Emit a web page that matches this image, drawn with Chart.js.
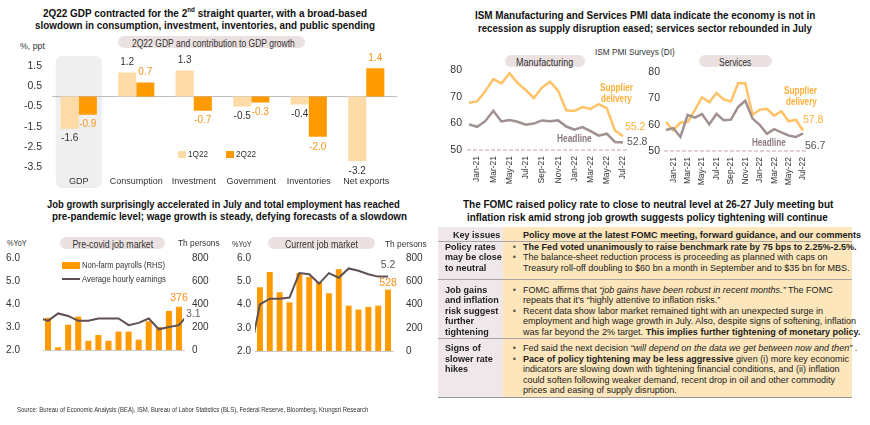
<!DOCTYPE html>
<html>
<head>
<meta charset="utf-8">
<title>US economy: GDP, PMI, jobs, FOMC</title>
<script src="https://cdn.jsdelivr.net/npm/chart.js@4.4.0/dist/chart.umd.min.js"></script>
<style>
  body { margin: 0; background: #fff; }
  #page { position: relative; width: 870px; height: 425px; overflow: hidden;
          font-family: "Liberation Sans", Arial, sans-serif; color: #222; }
  .a { position: absolute; white-space: nowrap; transform-origin: 0 50%; line-height: 12px; }
  .title { font-weight: bold; font-size: 11px; color: #111; }
  .pill { position: absolute; background: #ebe1e1; border-radius: 6px; height: 12px; line-height: 12px; text-align: center; }
  .pill span { display: inline-block; font-size: 10px; color: #333; white-space: nowrap; }
  .small { font-size: 9.5px; color: #333; }
  .sup { font-weight: bold; font-size: 10px; color: #ffae38; }
  .head { font-weight: bold; font-size: 10px; color: #8a7b7e; }
  .cell { position: absolute; }
  .tx { position: absolute; font-size: 9.6px; line-height: 10.5px; transform-origin: 0 0; }
  .tx div { position: relative; white-space: nowrap; }
  .bul { position: absolute; left: -11px; color: #555; }
  .rule { position: absolute; height: 1px; background: #a5a5a5; }
</style>
</head>
<body>
<div id="page">
  <!-- top left: GDP -->
  <div class="a title" data-w="324" style="left:43px;top:7px;">2Q22 GDP contracted for the 2<sup style="font-size:7px;line-height:0">nd</sup> straight quarter, with a broad-based</div>
  <div class="a title" data-w="340" style="left:35px;top:19px;">slowdown in consumption, investment, inventories, and public spending</div>
  <div class="pill" style="left:118px;top:36px;width:187px;"><span data-w="163">2Q22 GDP and contribution to GDP growth</span></div>
  <div class="a small" data-w="25" style="left:20px;top:40px;">%, ppt</div>
  <canvas id="gdp" class="a" width="400" height="140" style="left:0;top:50px;"></canvas>
  <div class="a" style="left:178px;top:151px;width:8px;height:7px;background:#fedba6;"></div>
  <div class="a small" data-w="20" style="left:188px;top:148px;">1Q22</div>
  <div class="a" style="left:226px;top:151px;width:8px;height:7px;background:#ff9a00;"></div>
  <div class="a small" data-w="20" style="left:236px;top:148px;">2Q22</div>

  <!-- top right: PMI -->
  <div class="a title" data-w="340" style="left:475px;top:9px;">ISM Manufacturing and Services PMI data indicate the economy is not in</div>
  <div class="a title" data-w="334" style="left:478px;top:22px;">recession as supply disruption eased; services sector rebounded in July</div>
  <div class="a small" data-w="80" style="left:595px;top:46px;">ISM PMI Surveys (DI)</div>
  <div class="pill" style="left:505px;top:55px;width:80px;"><span data-w="57">Manufacturing</span></div>
  <div class="pill" style="left:699px;top:55px;width:73px;"><span data-w="32">Services</span></div>
  <canvas id="mfg" class="a" width="220" height="130" style="left:430px;top:62px;"></canvas>
  <canvas id="svc" class="a" width="210" height="130" style="left:636px;top:62px;"></canvas>
  <div class="a sup" data-w="33" style="left:600px;top:82px;">Supplier</div>
  <div class="a sup" data-w="31" style="left:601px;top:93px;">delivery</div>
  <div class="a sup" data-w="33" style="left:784px;top:85px;">Supplier</div>
  <div class="a sup" data-w="31" style="left:786px;top:96px;">delivery</div>
  <div class="a head" data-w="35" style="left:557px;top:133px;">Headline</div>
  <div class="a head" data-w="34" style="left:752px;top:137px;">Headline</div>

  <!-- bottom left: jobs -->
  <div class="a title" data-w="353" style="left:47px;top:198px;">Job growth surprisingly accelerated in July and total employment has reached</div>
  <div class="a title" data-w="355" style="left:52px;top:210px;">pre-pandemic level; wage growth is steady, defying forecasts of a slowdown</div>
  <div class="a small" data-w="20" style="left:7px;top:237px;">%YoY</div>
  <div class="pill" style="left:60px;top:237px;width:105px;"><span data-w="81">Pre-covid job market</span></div>
  <div class="a small" data-w="42" style="left:178px;top:237px;">Th persons</div>
  <div class="a small" data-w="20" style="left:232px;top:238px;">%YoY</div>
  <div class="pill" style="left:268px;top:237px;width:107px;"><span data-w="73">Current job market</span></div>
  <div class="a small" data-w="42" style="left:385px;top:238px;">Th persons</div>
  <canvas id="pre" class="a" width="215" height="150" style="left:0;top:250px;"></canvas>
  <canvas id="cur" class="a" width="215" height="150" style="left:215px;top:250px;"></canvas>
  <div class="a" style="left:62px;top:262px;width:18px;height:7px;background:#ff9a00;"></div>
  <div class="a small" data-w="83" style="left:82px;top:259px;">Non-farm payrolls (RHS)</div>
  <div class="a" style="left:62px;top:278px;width:18px;height:2px;background:#5f5054;"></div>
  <div class="a small" data-w="84" style="left:82px;top:273px;">Average hourly earnings</div>

  <!-- bottom right: FOMC table -->
  <div class="a title" data-w="370" style="left:463px;top:198px;">The FOMC raised policy rate to close to neutral level at 26-27 July meeting but</div>
  <div class="a title" data-w="361" style="left:467px;top:210.5px;">inflation risk amid strong job growth suggests policy tightening will continue</div>

  <div class="cell" style="left:438px;top:227px;width:65px;height:170px;background:#efe7ea;"></div>
  <div class="cell" style="left:503px;top:227px;width:349px;height:170px;background:#fde6bb;"></div>

  <div class="tx" style="left:453px;top:229.75px;font-weight:bold;"><div>Key issues</div></div>
  <div class="tx" style="left:523px;top:229.75px;font-weight:bold;"><div>Policy move at the latest FOMC meeting, forward guidance, and our comments</div></div>

  <div class="tx" style="left:445px;top:241.75px;font-weight:bold;"><div>Policy rates</div><div>may be close</div><div>to neutral</div></div>
  <div class="tx" style="left:523px;top:241.75px;">
    <div><span class="bul">•</span><b>The Fed voted unanimously to raise benchmark rate by 75 bps to 2.25%-2.5%.</b></div>
    <div><span class="bul">•</span>The balance-sheet reduction process is proceeding as planned with caps on</div>
    <div><span id="refLine">Treasury roll-off doubling to $60 bn a month in September and to $35 bn for MBS.</span></div>
  </div>

  <div class="tx" style="left:445px;top:284.75px;font-weight:bold;"><div>Job gains</div><div>and inflation</div><div>risk suggest</div><div>further</div><div>tightening</div></div>
  <div class="tx" style="left:523px;top:284.75px;">
    <div><span class="bul">•</span>FOMC affirms that <i>“job gains have been robust in recent months.”</i> The FOMC</div>
    <div>repeats that it’s “highly attentive to inflation risks.”</div>
    <div><span class="bul">•</span>Recent data show labor market remained tight with an unexpected surge in</div>
    <div>employment and high wage growth in July. Also, despite signs of softening, inflation</div>
    <div>was far beyond the 2% target. <b>This implies further tightening of monetary policy.</b></div>
  </div>

  <div class="tx" style="left:445px;top:343.25px;font-weight:bold;"><div>Signs of</div><div>slower rate</div><div>hikes</div></div>
  <div class="tx" style="left:523px;top:343.25px;">
    <div><span class="bul">•</span>Fed said the next decision <i>“will depend on the data we get between now and then”</i> .</div>
    <div><span class="bul">•</span><b>Pace of policy tightening may be less aggressive</b> given (i) more key economic</div>
    <div>indicators are slowing down with tightening financial conditions, and (ii) inflation</div>
    <div>could soften following weaker demand, recent drop in oil and other commodity</div>
    <div>prices and easing of supply disruption.</div>
  </div>
  <div class="rule" style="left:438px;top:241px;width:414px;"></div>
  <div class="rule" style="left:438px;top:279px;width:414px;"></div>
  <div class="rule" style="left:438px;top:338px;width:414px;"></div>
  <div class="rule" style="left:438px;top:397px;width:414px;background:#999;"></div>

  <div class="a" data-w="351" style="left:17px;top:404px;font-size:7.5px;color:#333;">Source: Bureau of Economic Analysis (BEA), ISM, Bureau of Labor Statistics (BLS), Federal Reserve, Bloomberg, Krungsri Research</div>
</div>

<script>
// ---------- data ----------
const gdpCategories = ['GDP', 'Consumption', 'Investment', 'Government', 'Inventories', 'Net exports'];
const gdp1Q22 = [-1.6, 1.2, 1.3, -0.5, -0.4, -3.2];
const gdp2Q22 = [-0.9, 0.7, -0.7, -0.3, -2.0, 1.4];
const gdpTicks = [1.5, 0.5, -0.5, -1.5, -2.5, -3.5];

const pmiMonths = ['Dec-20', 'Jan-21', 'Feb-21', 'Mar-21', 'Apr-21', 'May-21', 'Jun-21', 'Jul-21', 'Aug-21', 'Sep-21',
  'Oct-21', 'Nov-21', 'Dec-21', 'Jan-22', 'Feb-22', 'Mar-22', 'Apr-22', 'May-22', 'Jun-22', 'Jul-22'];
const mfgSupplier = [67.7, 68.2, 72.0, 76.6, 75.0, 78.8, 75.1, 72.5, 69.5, 73.4, 75.6, 72.2, 64.9, 64.6, 66.1, 65.4, 67.2, 65.7, 57.3, 55.2];
const mfgHeadline = [59.6, 58.7, 60.8, 64.7, 60.7, 61.2, 60.6, 59.5, 59.9, 61.1, 60.8, 61.1, 58.8, 57.6, 58.6, 57.1, 55.4, 56.1, 53.0, 52.8];
const svcSupplier = [61.0, 57.8, 60.8, 61.0, 65.5, 70.4, 68.5, 72.0, 69.6, 68.8, 75.7, 75.7, 63.8, 65.7, 66.0, 63.4, 65.1, 61.3, 61.9, 57.8];
const svcHeadline = [58.0, 58.7, 55.3, 63.7, 62.7, 64.0, 60.1, 64.1, 61.7, 61.9, 66.7, 69.1, 62.3, 59.9, 56.5, 58.3, 57.1, 55.9, 55.3, 56.7];
const pmiTicks = [50, 55, 60, 65, 70, 75, 80];

const preMonths = ['Jan-19', 'Feb-19', 'Mar-19', 'Apr-19', 'May-19', 'Jun-19', 'Jul-19', 'Aug-19', 'Sep-19', 'Oct-19',
  'Nov-19', 'Dec-19', 'Jan-20', 'Feb-20'];
const prePayrolls = [280, 24, 220, 290, 80, 130, 80, 160, 160, 90, 250, 200, 340, 376];
// earnings run one month past each side of the bars (Dec-18 .. Mar-20); the ends get clipped
const preEarnings = [3.41, 3.27, 3.59, 3.48, 3.27, 3.27, 3.37, 3.37, 3.37, 3.08, 3.18, 3.37, 2.9, 3.0, 3.08, 3.6];

const curMonths = ['Jun-21', 'Jul-21', 'Aug-21', 'Sep-21', 'Oct-21', 'Nov-21', 'Dec-21', 'Jan-22', 'Feb-22', 'Mar-22',
  'Apr-22', 'May-22', 'Jun-22', 'Jul-22'];
const curPayrolls = [548, 680, 505, 418, 671, 637, 595, 497, 704, 390, 356, 379, 390, 528];
// May-21 .. Jul-22
const curEarnings = [1.9, 4.0, 4.25, 4.25, 4.3, 5.35, 5.3, 4.9, 5.35, 5.15, 5.55, 5.45, 5.3, 5.2, 5.2];

const jobLeftTicks = [2, 3, 4, 5, 6];
const jobRightTicks = [0, 200, 400, 600, 800];

// ---------- squeeze html text to the reference widths ----------
document.querySelectorAll('[data-w]').forEach(el => {
  el.style.transformOrigin = el.tagName === 'SPAN' ? '50% 50%' : '0 50%';
  el.style.transform = 'scaleX(' + (+el.dataset.w / el.offsetWidth) + ')';
});
const tableK = 327 / document.getElementById('refLine').offsetWidth;
document.querySelectorAll('.tx').forEach(el => { el.style.transform = 'scaleX(' + tableK + ')'; });

// ---------- shared bits ----------
const FONT = '"Liberation Sans", Arial, sans-serif';
Chart.defaults.font.family = FONT;
Chart.defaults.color = '#333';
Chart.defaults.animation = false;
Chart.defaults.plugins.legend.display = false;
Chart.defaults.plugins.tooltip.enabled = false;

const ORANGE = '#ff9a00';
const LIGHT = '#fedba6';

function fixW(w) { return s => { s.width = w; }; }
function fixH(h) { return s => { s.height = h; }; }
// hidden grid, but the tick length still pushes the labels away from the plot
// (ticks.padding would also push the plot area down)
function gap(px) { return { display: false, drawTicks: true, tickLength: px }; }

// text next to single points / bars
const pointLabels = {
  id: 'pointLabels',
  afterDatasetsDraw(chart, args, opts) {
    const ctx = chart.ctx;
    (opts.items || []).forEach(it => {
      const data = chart.data.datasets[it.dataset].data;
      const idx = it.index < 0 ? data.length + it.index : it.index;
      const el = chart.getDatasetMeta(it.dataset).data[idx];
      const raw = data[idx];
      const v = typeof raw === 'object' ? raw.y : raw;
      const txt = it.fmt ? it.fmt(v) : v.toFixed(1);
      ctx.save();
      ctx.font = (it.size || 10) + 'px ' + FONT;
      ctx.fillStyle = it.color;
      ctx.textAlign = it.align || 'center';
      ctx.textBaseline = 'middle';
      ctx.fillText(txt, el.x + (it.dx || 0), el.y + (it.dy || 0));
      ctx.restore();
    });
  }
};

// ---------- GDP ----------
const gdpDecor = {
  id: 'gdpDecor',
  beforeDraw(chart) {
    const ctx = chart.ctx, x = chart.scales.x;
    const cx = x.getPixelForValue(0);
    ctx.save();
    ctx.fillStyle = '#efefef';
    ctx.beginPath();
    ctx.roundRect(cx - 23, 6, 46, 132, 6);
    ctx.fill();
    ctx.restore();
  },
  beforeDatasetsDraw(chart) {
    const ctx = chart.ctx, y = chart.scales.y, a = chart.chartArea;
    const y0 = y.getPixelForValue(0);
    ctx.save();
    ctx.strokeStyle = '#bdbdbd';
    ctx.lineWidth = 1;
    ctx.beginPath();
    ctx.moveTo(a.left + 2, y0);
    ctx.lineTo(a.right + 2, y0);
    ctx.stroke();
    ctx.restore();
  },
  afterDatasetsDraw(chart) {
    const ctx = chart.ctx;
    const colors = ['#333', '#f7941d'];
    ctx.save();
    ctx.font = '10px ' + FONT;
    ctx.textAlign = 'center';
    ctx.textBaseline = 'middle';
    chart.data.datasets.forEach((ds, di) => {
      chart.getDatasetMeta(di).data.forEach((el, i) => {
        const v = ds.data[i];
        ctx.fillStyle = colors[di];
        ctx.fillText(v.toFixed(1), el.x, el.y + (v >= 0 ? -10 : 10));
      });
    });
    ctx.restore();
  }
};

new Chart(document.getElementById('gdp'), {
  type: 'bar',
  data: {
    labels: gdpCategories,
    datasets: [
      { label: '1Q22', data: gdp1Q22, backgroundColor: LIGHT, categoryPercentage: 0.63, barPercentage: 1.0 },
      { label: '2Q22', data: gdp2Q22, backgroundColor: ORANGE, categoryPercentage: 0.63, barPercentage: 1.0 }
    ]
  },
  options: {
    responsive: false,
    layout: { padding: { top: 5.6, right: 5, left: 0, bottom: 0 } },
    scales: {
      x: {
        grid: gap(3), border: { display: false },
        ticks: { font: { size: 9 }, padding: 0, color: '#333', autoSkip: false, minRotation: 0, maxRotation: 0 },
        afterFit: fixH(17)
      },
      y: {
        min: -3.8, max: 2.0,
        grid: gap(8), border: { display: false },
        ticks: { font: { size: 10.5 }, padding: 0, callback: v => v.toFixed(1) },
        afterBuildTicks: s => { s.ticks = gdpTicks.map(v => ({ value: v })); },
        afterFit: fixW(50)
      }
    }
  },
  plugins: [gdpDecor]
});

// ---------- PMI ----------
const dashed50 = {
  id: 'dashed50',
  beforeDatasetsDraw(chart) {
    const ctx = chart.ctx, y = chart.scales.y, a = chart.chartArea;
    const yy = y.getPixelForValue(pmiTicks[0]);
    ctx.save();
    ctx.strokeStyle = '#d9c2c3';
    ctx.lineWidth = 1.5;
    ctx.setLineDash([4, 2]);
    ctx.beginPath();
    ctx.moveTo(a.left - 2, yy);
    ctx.lineTo(a.right + 4, yy);
    ctx.stroke();
    ctx.restore();
  }
};

function pmiChart(id, supplier, headline, geo, labels) {
  return new Chart(document.getElementById(id), {
    type: 'line',
    data: {
      labels: pmiMonths,
      datasets: [
        { label: 'Headline', data: headline, borderColor: '#a0908f', borderWidth: 2.5, pointRadius: 0, tension: 0 },
        { label: 'Supplier delivery', data: supplier, borderColor: '#ffc266', borderWidth: 2.5, pointRadius: 0, tension: 0 }
      ]
    },
    options: {
      responsive: false,
      layout: { padding: { top: geo.top, right: geo.right, left: 0, bottom: 0 } },
      scales: {
        x: {
          grid: gap(6), border: { display: false },
          ticks: {
            autoSkip: false, minRotation: 90, maxRotation: 90, padding: 0, font: { size: 8.5 },
            callback: (v, i) => (i % 2 === 1 ? pmiMonths[i] : '')
          },
          afterFit: fixH(geo.xh)
        },
        y: {
          min: pmiTicks[0], max: pmiTicks[pmiTicks.length - 1],
          grid: gap(geo.pad), border: { display: false },
          ticks: { stepSize: pmiTicks[1] - pmiTicks[0], padding: 0, font: { size: 10.5 } },
          afterFit: fixW(geo.yw)
        }
      },
      plugins: { pointLabels: { items: labels } }
    },
    plugins: [dashed50, pointLabels]
  });
}

pmiChart('mfg', mfgSupplier, mfgHeadline, { top: 8, right: 27, xh: 42, yw: 39, pad: 7 }, [
  { dataset: 1, index: -1, color: '#ffae38', align: 'left', dx: 2, dy: -9, size: 10.5 },
  { dataset: 0, index: -1, color: '#555', align: 'left', dx: 4, dy: 0, size: 10.5 }
]);
pmiChart('svc', svcSupplier, svcHeadline, { top: 10, right: 43, xh: 41, yw: 30, pad: 6 }, [
  { dataset: 1, index: -1, color: '#ffae38', align: 'left', dx: 0, dy: -10, size: 10.5 },
  { dataset: 0, index: -1, color: '#555', align: 'left', dx: 2, dy: 13, size: 10.5 }
]);

// ---------- jobs ----------
// one linear x axis: bar i sits at i, the earnings line runs from i = -1 (clipped at the edges)
function jobChart(id, months, payrolls, earnings, geo, labels) {
  const n = months.length;
  return new Chart(document.getElementById(id), {
    type: 'bar',
    data: {
      datasets: [
        {
          type: 'line', label: 'Average hourly earnings', order: 0,
          data: earnings.map((v, i) => ({ x: i - 1, y: v })),
          yAxisID: 'y', borderColor: '#5f5054', borderWidth: 2,
          pointRadius: 0, tension: 0, clip: 0
        },
        {
          label: 'Non-farm payrolls (RHS)', order: 1, yAxisID: 'y2',
          data: payrolls.map((v, i) => ({ x: i, y: v })),
          backgroundColor: ORANGE, categoryPercentage: 1.0, barPercentage: 0.6
        }
      ]
    },
    options: {
      responsive: false,
      layout: { padding: { top: 8, right: 0, left: 0, bottom: 0 } },
      scales: {
        x: {
          type: 'linear', offset: false, min: -0.5, max: n - 0.5,
          grid: Object.assign(gap(6), { offset: false }), border: { display: true, color: '#c8c8c8' },
          ticks: {
            stepSize: 1, includeBounds: false, autoSkip: false, minRotation: 90, maxRotation: 90, padding: 0,
            font: { size: 8.5 },
            callback: v => (Number.isInteger(v) && v % 3 === 0 ? months[v] : '')
          },
          afterFit: fixH(geo.xh)
        },
        y: {
          position: 'left', min: jobLeftTicks[0], max: jobLeftTicks[jobLeftTicks.length - 1],
          grid: gap(geo.lpad), border: { display: false },
          ticks: { stepSize: jobLeftTicks[1] - jobLeftTicks[0], padding: 0, font: { size: 10 }, callback: v => v.toFixed(1) },
          afterFit: fixW(geo.lw)
        },
        y2: {
          position: 'right', min: jobRightTicks[0], max: jobRightTicks[jobRightTicks.length - 1],
          grid: gap(geo.rpad), border: { display: false },
          ticks: { stepSize: jobRightTicks[1] - jobRightTicks[0], padding: 0, font: { size: 10 } },
          afterFit: fixW(geo.rw)
        }
      },
      plugins: { pointLabels: { items: labels } }
    },
    plugins: [pointLabels]
  });
}

jobChart('pre', preMonths, prePayrolls, preEarnings, { xh: 50, lw: 43, lpad: 23, rw: 31, rpad: 8 }, [
  { dataset: 1, index: -1, color: '#ff8c1a', fmt: v => String(v), dy: -9, size: 10.5 },
  { dataset: 0, index: -2, color: '#666', align: 'left', dx: 7, dy: -11, size: 10.5 }
]);
jobChart('cur', curMonths, curPayrolls, curEarnings, { xh: 49, lw: 40, lpad: 4, rw: 37, rpad: 13 }, [
  { dataset: 1, index: -1, color: '#ff8c1a', fmt: v => String(v), dy: -7, size: 10.5 },
  { dataset: 0, index: -1, color: '#555', dy: -11, size: 10.5 }
]);
</script>
</body>
</html>
